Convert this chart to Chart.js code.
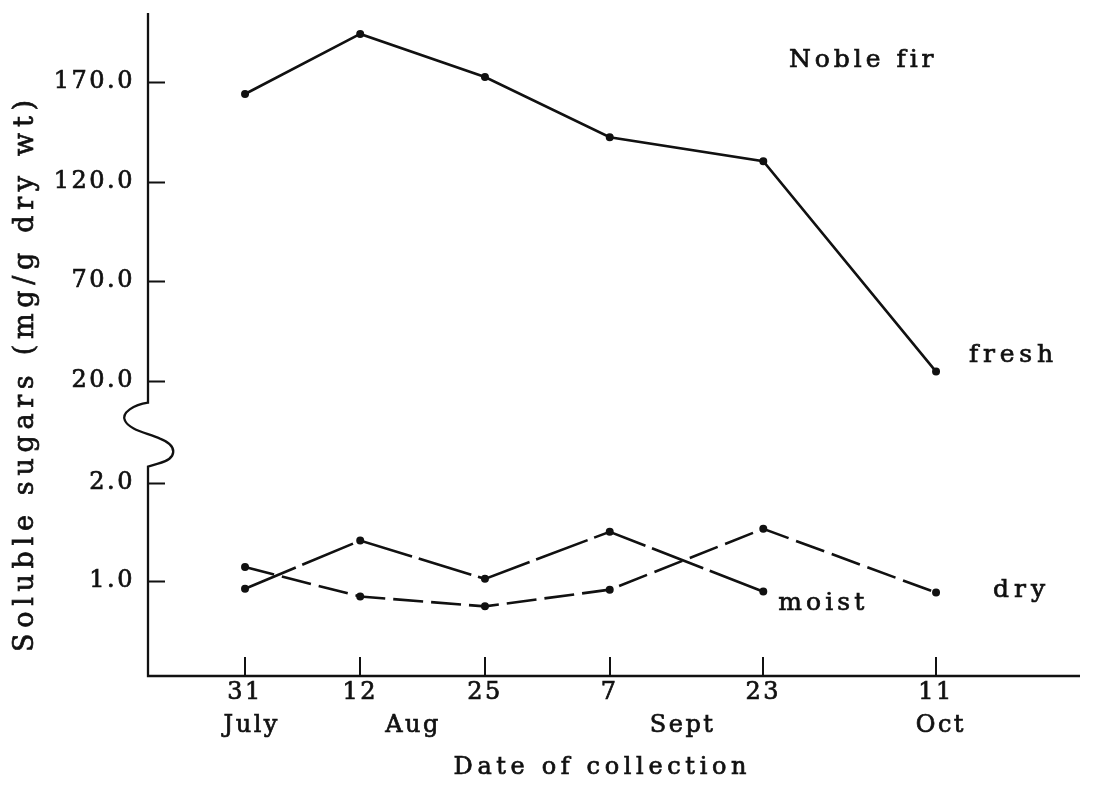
<!DOCTYPE html>
<html><head><meta charset="utf-8">
<script src="https://cdn.jsdelivr.net/npm/chart.js@4.4.1/dist/chart.umd.min.js"></script>
<style>html,body{margin:0;padding:0;background:#fff;}#wrap{width:1095px;height:785px;}</style>
</head><body><div id="wrap"><canvas id="c" width="1095" height="785"></canvas></div>
<script>
// Days after 31 July for each collection date
const collectionDays = [0, 12, 25, 38, 54, 72];
const dayLabels = ['31', '12', '25', '7', '23', '11'];
const monthTickDays = [0.7, 17.5, 45.6, 72.5];
const monthLabels = ['July', 'Aug', 'Sept', 'Oct'];
// Soluble sugars (mg/g dry wt)
const freshValues = [164.0, 194.2, 172.5, 142.3, 130.2, 24.5];
const moistValues = [0.92, 1.41, 1.02, 1.50, 0.89, null];
const dryValues = [1.14, 0.84, 0.74, 0.91, 1.53, 0.88];
const upperTicks = [20, 70, 120, 170];
const lowerTicks = [1, 2];
const seriesNames = ['fresh', 'moist', 'dry'];

const INK = '#111';
const FONT = 'DejaVu Serif';
const toPts = vals => collectionDays.map((d, i) => ({x: d, y: vals[i]})).filter(p => p.y !== null);

const spacing = {
  id: 'spacing',
  beforeDraw(chart) { chart.ctx.letterSpacing = '2.5px'; }
};

const decor = {
  id: 'decor',
  afterDraw(chart) {
    const ctx = chart.ctx;
    const ca = chart.chartArea;
    const L = ca.left, B = ca.bottom;
    const yUp = chart.scales.yUp, yLow = chart.scales.yLow, x = chart.scales.x;
    const brk = yUp.bottom;
    ctx.save();
    ctx.strokeStyle = INK; ctx.lineWidth = 2.3; ctx.lineCap = 'butt';
    // axis lines with break squiggle
    ctx.beginPath();
    ctx.moveTo(L, ca.top - 1);
    ctx.lineTo(L, brk - 32);
    ctx.bezierCurveTo(L - 14, brk - 30, L - 27, brk - 22, L - 23, brk - 14);
    ctx.bezierCurveTo(L - 19, brk - 5, L - 2, brk - 2, L + 12, brk + 4);
    ctx.bezierCurveTo(L + 30, brk + 11, L + 30, brk + 24, L + 10, brk + 29);
    ctx.lineTo(L, brk + 32);
    ctx.lineTo(L, B);
    ctx.lineTo(ca.right, B);
    ctx.stroke();
    // inward tick marks
    ctx.lineWidth = 2;
    ctx.beginPath();
    [yUp, yLow].forEach(s => s.ticks.forEach(t => {
      const p = Math.round(s.getPixelForValue(t.value)) + 0.5;
      ctx.moveTo(L, p); ctx.lineTo(L + 17, p);
    }));
    x.ticks.forEach(t => {
      const p = Math.round(x.getPixelForValue(t.value));
      ctx.moveTo(p, B); ctx.lineTo(p, B - 19);
    });
    ctx.stroke();

    // text fitted to a target width via letter spacing
    const txt = (s, px, py, size, width, align) => {
      ctx.font = size + 'px "' + FONT + '"';
      ctx.letterSpacing = '0px';
      const w = ctx.measureText(s).width;
      const sp = width ? Math.max((width - w) / Math.max(s.length - 1, 1), 0) : 0;
      ctx.letterSpacing = sp + 'px';
      ctx.textAlign = 'left';
      ctx.textBaseline = 'middle';
      const total = w + sp * (s.length - 1);
      let sx = px;
      if (align === 'center') sx = px - total / 2;
      ctx.fillStyle = INK;
      ctx.lineWidth = 0.7; ctx.strokeStyle = INK;
      ctx.fillText(s, sx, py);
      ctx.strokeText(s, sx, py);
    };
    const last = (ds) => {
      const meta = chart.getDatasetMeta(ds);
      const pt = meta.data[meta.data.length - 1];
      return {x: pt.x, y: pt.y};
    };
    const f = last(0), m = last(1), d = last(2);
    txt(seriesNames[0], f.x + 33, f.y - 16, 25, 84);
    txt(seriesNames[1], m.x + 15, m.y + 12, 25, 86);
    txt(seriesNames[2], d.x + 57, d.y - 2, 25, 52);
    txt('Noble fir', ca.right - 291, ca.top + 46, 25, 144);
    txt('Date of collection', 600, 768, 24, 293, 'center');
    ctx.save();
    ctx.translate(26, 376);
    ctx.rotate(-Math.PI / 2);
    txt('Soluble sugars (mg/g dry wt)', 0, 0, 27, 552, 'center');
    ctx.restore();
    ctx.restore();
  }
};

const tickFont = size => ({
  font: {family: FONT, size: size},
  color: INK, textStrokeColor: INK, textStrokeWidth: 0.7
});
const noPad = s => { s.paddingTop = 0; s.paddingBottom = 0; s.paddingLeft = 0; s.paddingRight = 0; };

new Chart(document.getElementById('c'), {
  type: 'line',
  data: {
    datasets: [
      {label: seriesNames[0], data: toPts(freshValues), xAxisID: 'x', yAxisID: 'yUp',
       borderColor: INK, borderWidth: 2.6},
      {label: seriesNames[1], data: toPts(moistValues), xAxisID: 'x', yAxisID: 'yLow',
       borderColor: INK, borderWidth: 2.6, borderDash: [55, 7]},
      {label: seriesNames[2], data: toPts(dryValues), xAxisID: 'x', yAxisID: 'yLow',
       borderColor: INK, borderWidth: 2.6, borderDash: [30, 8]}
    ]
  },
  options: {
    responsive: false,
    animation: false,
    devicePixelRatio: 1,
    layout: {padding: {left: 0, top: 14, right: 15, bottom: 0}, autoPadding: false},
    elements: {
      line: {tension: 0, fill: false},
      point: {radius: 2.7, backgroundColor: INK, borderWidth: 0, hoverRadius: 2.7}
    },
    plugins: {legend: {display: false}, tooltip: {enabled: false}},
    scales: {
      x: {
        type: 'linear', position: 'bottom', min: -10.11, max: 87,
        afterBuildTicks: s => { s.ticks = collectionDays.map(v => ({value: v})); },
        ticks: Object.assign(tickFont(24), {
          padding: 2, autoSkip: false, maxRotation: 0,
          callback: v => dayLabels[collectionDays.indexOf(v)]
        }),
        grid: {display: false, drawTicks: false},
        border: {display: false},
        afterFit: s => { s.height = 34; noPad(s); }
      },
      xm: {
        type: 'linear', position: 'bottom', min: -10.11, max: 87,
        afterBuildTicks: s => { s.ticks = monthTickDays.map(v => ({value: v})); },
        ticks: Object.assign(tickFont(24), {
          padding: 1, autoSkip: false, maxRotation: 0,
          callback: v => monthLabels[monthTickDays.indexOf(v)]
        }),
        grid: {display: false, drawTicks: false},
        border: {display: false},
        afterFit: s => { s.height = 75; noPad(s); }
      },
      yLow: {
        type: 'linear', position: 'left', stack: 'v', stackWeight: 241,
        min: 0.03, max: 2.49,
        afterBuildTicks: s => { s.ticks = lowerTicks.map(v => ({value: v})); },
        ticks: Object.assign(tickFont(24), {padding: 13, callback: v => v.toFixed(1)}),
        grid: {display: false, drawTicks: false},
        border: {display: false},
        afterFit: s => { s.width = 148; noPad(s); }
      },
      yUp: {
        type: 'linear', position: 'left', stack: 'v', stackWeight: 420,
        min: -7.2, max: 204.2,
        afterBuildTicks: s => { s.ticks = upperTicks.map(v => ({value: v})); },
        ticks: Object.assign(tickFont(24), {padding: 13, callback: v => v.toFixed(1)}),
        grid: {display: false, drawTicks: false},
        border: {display: false},
        afterFit: s => { s.width = 148; noPad(s); }
      }
    }
  },
  plugins: [spacing, decor]
});
</script>
</body></html>
